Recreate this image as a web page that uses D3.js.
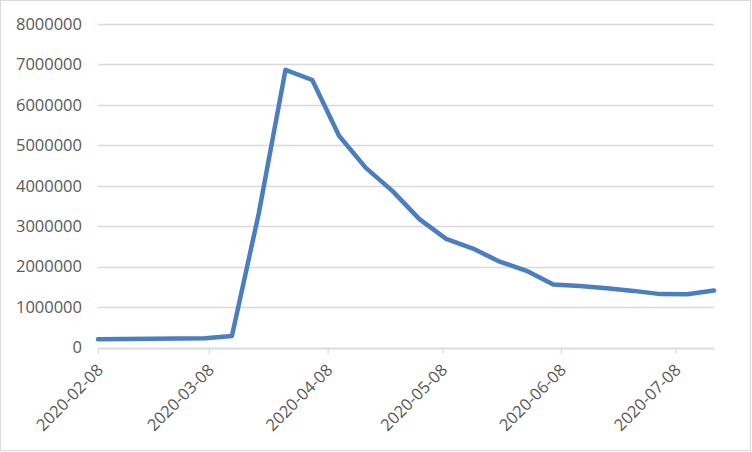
<!DOCTYPE html>
<html>
<head>
<meta charset="utf-8">
<script src="https://cdn.jsdelivr.net/npm/d3@7"></script>
<style>
  html, body { margin: 0; padding: 0; background: #fff; }
  svg { display: block; }
  text { font-family: "Open Sans", "Liberation Sans", sans-serif; fill: #595959; }
</style>
</head>
<body>
<svg id="chart" width="752" height="452"></svg>
<script>
const weekDates = ["2020-02-08","2020-02-15","2020-02-22","2020-02-29","2020-03-07","2020-03-14",
  "2020-03-21","2020-03-28","2020-04-04","2020-04-11","2020-04-18","2020-04-25","2020-05-02",
  "2020-05-09","2020-05-16","2020-05-23","2020-05-30","2020-06-06","2020-06-13","2020-06-20",
  "2020-06-27","2020-07-04","2020-07-11","2020-07-18"];
const claims = [205000, 212000, 218000, 220000, 228000, 285000, 3307000, 6867000, 6615000,
  5237000, 4442000, 3867000, 3176000, 2687000, 2446000, 2123000, 1897000, 1555000, 1520000,
  1465000, 1400000, 1320000, 1318000, 1412000];
const xTickLabels = ["2020-02-08","2020-03-08","2020-04-08","2020-05-08","2020-06-08","2020-07-08"];
const yTickValues = [0, 1000000, 2000000, 3000000, 4000000, 5000000, 6000000, 7000000, 8000000];

const parse = d3.utcParse("%Y-%m-%d");
const fmt = d3.utcFormat("%Y-%m-%d");
const data = weekDates.map((d, i) => ({ date: parse(d), value: claims[i] }));

const svg = d3.select("#chart");
const mLeft = 98, mRight = 714, mTop = 24, mBottom = 347.5;

svg.append("rect").attr("x", 0.5).attr("y", 0.5).attr("width", 750).attr("height", 450)
  .attr("fill", "#fff").attr("stroke", "#d9d9d9").attr("stroke-width", 1);

const x = d3.scaleUtc().domain([parse(weekDates[0]), parse(weekDates[weekDates.length - 1])]).range([mLeft, mRight]);
const y = d3.scaleLinear().domain([0, 8000000]).range([mBottom, mTop]);

// gridlines
svg.append("g").selectAll("line").data(yTickValues).join("line")
  .attr("x1", mLeft).attr("x2", mRight)
  .attr("y1", d => Math.round(y(d)) + 0.5).attr("y2", d => Math.round(y(d)) + 0.5)
  .attr("stroke", "#d9d9d9").attr("stroke-width", 1.3);

// y axis labels
const yAxis = d3.axisLeft(y).tickValues(yTickValues).tickFormat(d3.format("d")).tickSize(0).tickPadding(16);
const gy = svg.append("g").attr("transform", `translate(${mLeft},0)`).call(yAxis);
gy.select(".domain").remove();
gy.selectAll("text").style("font-size", "16.5px").attr("fill", "#595959")
  .style("font-family", "'Open Sans', 'Liberation Sans', sans-serif");

// x axis
const xAxis = d3.axisBottom(x).tickValues(xTickLabels.map(parse)).tickFormat(fmt).tickSize(5).tickSizeOuter(0);
const gx = svg.append("g").attr("transform", `translate(0,${Math.round(mBottom) + 0.5})`).call(xAxis);
gx.select(".domain").attr("stroke", "#d9d9d9").attr("stroke-width", 1.3)
  .attr("d", `M${mLeft},0H${mRight}`);
gx.selectAll(".tick line").attr("stroke", "#d9d9d9").attr("stroke-width", 1.3);
gx.selectAll("text")
  .style("font-size", "16.5px").attr("fill", "#595959")
  .style("font-family", "'Open Sans', 'Liberation Sans', sans-serif")
  .attr("text-anchor", "end")
  .attr("dy", null).attr("y", null)
  .attr("transform", "translate(1,18) rotate(-45)")
  .attr("dominant-baseline", "central");

// line
const line = d3.line().x(d => x(d.date)).y(d => y(d.value));
svg.append("path").datum(data).attr("d", line)
  .attr("fill", "none").attr("stroke", "#4a7ebf").attr("stroke-width", 4.5)
  .attr("stroke-linejoin", "round").attr("stroke-linecap", "round");
</script>
</body>
</html>
